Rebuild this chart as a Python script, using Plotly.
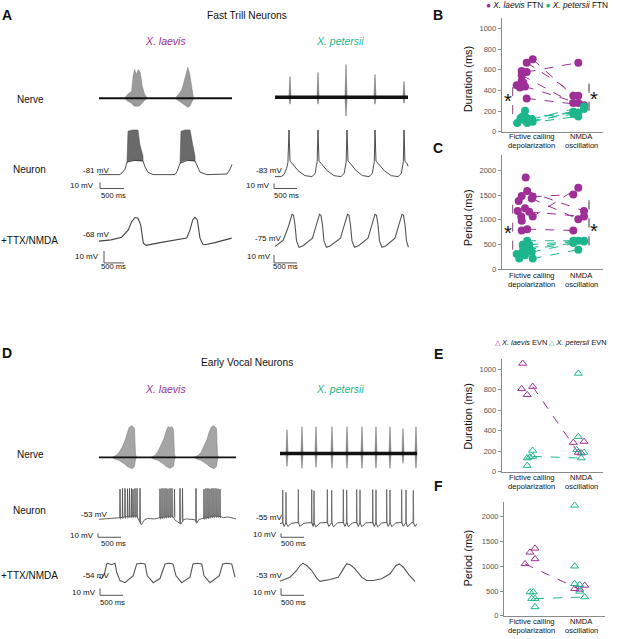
import plotly.graph_objects as go

W, H = 618, 639
PURPLE = "#9d2f96"
GREEN = "#1db68c"
INK = "#3a3a3a"
FONT = "Arial, Liberation Sans, Helvetica, sans-serif"

# ======================= DATA =======================
# ---- (A) Fast trill neurons, X. laevis ----
ftn_lv_nerve_dur = 2770
ftn_lv_nerve_b1_t = [540, 600, 680, 710, 740, 780, 820, 860, 900, 950, 1000]
ftn_lv_nerve_b1_up = [0.5, 4, 7, 22, 29, 24, 29, 26, 12, 4, 0.5]
ftn_lv_nerve_b1_dn = [-0.5, -3, -5, -7, -8, -8, -8, -7, -5, -2, -0.5]
ftn_lv_nerve_b2_t = [1600, 1660, 1720, 1770, 1820, 1850, 1890, 1930, 1970]
ftn_lv_nerve_b2_up = [0.5, 4, 8, 16, 26, 31, 24, 10, 0.5]
ftn_lv_nerve_b2_dn = [-0.5, -3, -5, -7, -8, -9, -8, -4, -0.5]

ftn_lv_neuron_t = [0, 437, 479, 542, 583, 750, 917, 958, 1021, 1125, 1583, 1625, 1687,
                   1850, 2000, 2042, 2104, 2250, 2667, 2729, 2770]
ftn_lv_neuron_v = [-81, -81, -78, -72, -60, -57, -58, -68, -77, -81, -81, -76, -62,
                   -57, -58, -67, -77, -81, -80, -72, -64]
ftn_lv_burst1_t = [583, 604, 700, 812, 850, 917, 917, 812, 700, 604, 583]
ftn_lv_burst1_v = [-60, -8, -6, -6, -30, -50, -58, -57, -57, -59, -60]
ftn_lv_burst2_t = [1687, 1708, 1800, 1896, 1950, 2000, 2000, 1896, 1800, 1708, 1687]
ftn_lv_burst2_v = [-62, -8, -6, -6, -30, -50, -58, -57, -57, -60, -62]

ftn_lv_ttx_t = [0, 300, 567, 733, 817, 900, 975, 1042, 1108, 1175, 1525, 1900, 2192, 2275,
                2342, 2400, 2458, 2525, 2592, 2650, 2900, 3317]
ftn_lv_ttx_v = [-68, -67, -64.7, -58.6, -51.6, -48.2, -48.8, -54.4, -69.7, -71.6, -69.3,
                -67.2, -65.5, -58.6, -50.2, -48, -50.2, -65.5, -70.5, -71.1, -69.3, -65.5]

# ---- (A) Fast trill neurons, X. petersii ----
ftn_pt_nerve_dur = 2770
ftn_pt_nerve_spk_t = [312, 896, 1479, 2083, 2687]
ftn_pt_nerve_spk_up = [21, 25, 33, 23, 16]
ftn_pt_nerve_spk_dn = [-7, -7, -19, -7, -6]

ftn_pt_neuron_t = [0, 130, 195, 250, 280, 304, 325, 370, 500, 650, 800, 870, 900, 915, 933,
                   955, 1000, 1130, 1280, 1430, 1500, 1530, 1545, 1562, 1585, 1630, 1760,
                   1900, 2040, 2110, 2140, 2155, 2170, 2192, 2235, 2370, 2520, 2670, 2740,
                   2770, 2785, 2799, 2820, 2860, 2886]
ftn_pt_neuron_v = [-83, -83, -79, -67, -55, 11, -52, -56, -71, -81, -83, -77, -60, -53, 11,
                   -52, -56, -71, -81, -83, -77, -60, -53, 11, -52, -56, -71, -81, -83, -77,
                   -60, -53, 11, -52, -56, -71, -81, -83, -77, -60, -53, 11, -52, -56, -62]

ftn_pt_ttx_t = [0, 180, 294, 337, 370, 403, 435, 468, 522, 609, 815, 891, 934, 967, 1000,
                1032, 1065, 1119, 1206, 1424, 1500, 1543, 1576, 1609, 1641, 1674, 1728, 1815,
                2022, 2098, 2141, 2174, 2207, 2239, 2272, 2326, 2413, 2609, 2685, 2728, 2761,
                2794, 2826, 2859, 2900]
ftn_pt_ttx_v = [-78, -70, -52.5, -42.5, -37.5, -38.8, -51, -71, -79, -77, -67.5, -52.5, -42.5,
                -37.5, -38.8, -51, -71, -79, -77, -67.5, -52.5, -42.5, -37.5, -38.8, -51, -71,
                -79, -77, -67.5, -52.5, -42.5, -37.5, -38.8, -51, -71, -79, -77, -67.5, -52.5,
                -42.5, -37.5, -38.8, -51, -71, -79]

# ---- (D) Early vocal neurons, X. laevis ----
evn_lv_nerve_dur = 2973
evn_lv_nerve_b1_t = [282, 369, 434, 499, 564, 608, 651, 694, 738, 770, 792, 814]
evn_lv_nerve_b1_up = [0, 2, 5, 10, 17, 24, 30, 32, 31, 29, 3, 0]
evn_lv_nerve_b1_dn = [0, -2, -3, -5, -7, -9, -10, -11, -11, -9, -2, 0]
evn_lv_nerve_b2_t = [1128, 1215, 1280, 1345, 1410, 1454, 1497, 1540, 1584, 1616, 1638, 1660]
evn_lv_nerve_b2_up = [0, 2, 6, 12, 19, 26, 31, 30, 31, 28, 3, 0]
evn_lv_nerve_b2_dn = [0, -2, -3, -5, -7, -9, -10, -11, -10, -9, -2, 0]
evn_lv_nerve_b3_t = [2061, 2148, 2213, 2278, 2343, 2387, 2430, 2473, 2517, 2549, 2571, 2593]
evn_lv_nerve_b3_up = [0, 2, 5, 11, 18, 25, 30, 32, 31, 29, 3, 0]
evn_lv_nerve_b3_dn = [0, -2, -3, -5, -7, -9, -10, -11, -11, -9, -2, 0]

evn_lv_neuron_t = [0, 200, 350, 456, 700, 825, 870, 920, 980, 1050, 1200, 1324, 1600, 1650,
                   1700, 1780, 1830, 1900, 2080, 2120, 2170, 2278, 2500, 2640, 2700, 2800,
                   2900, 2973]
evn_lv_neuron_v = [-54, -53, -52, -50, -46, -46, -58, -68, -56, -52, -53, -50, -46, -56, -60,
                   -66, -55, -53, -55, -64, -54, -51, -46, -47, -50, -48, -52, -53]
evn_lv_spk_t = [456, 510, 564, 619, 662, 705, 738, 781, 825, 890, 1324, 1367, 1411, 1454,
                1497, 1541, 1584, 1638, 1758, 1812, 2105, 2278, 2322, 2365, 2408, 2452, 2495,
                2539, 2582, 2626]
evn_lv_spk_top = [22, 24, 24, 23, 24, 24, 22, 24, 24, 24, 23, 24, 24, 24, 23, 24, 24, 22, 24,
                  24, 24, 22, 24, 24, 23, 24, 24, 24, 23, 22]
evn_lv_spk_base = [-50, -49, -48, -48, -47, -47, -46, -46, -46, -60, -50, -49, -48, -48, -47,
                   -47, -46, -46, -62, -55, -58, -51, -50, -49, -48, -47, -47, -46, -46, -47]

evn_lv_ttx_t = [0, 59, 120, 167, 195, 270, 347, 384, 456, 564, 744, 803, 818, 900, 998, 1048,
                1178, 1324, 1411, 1432, 1520, 1606, 1671, 1795, 1975, 2033, 2040, 2130, 2229,
                2279, 2409, 2611, 2663, 2684, 2780, 2880, 2951]
evn_lv_ttx_v = [-55, -57, -50, -36, -35, -37, -35, -48, -60, -63, -53, -38, -36, -35, -36, -53,
                -63, -57, -38, -36, -35, -36, -53, -63, -55, -38, -36, -35, -36, -53, -63, -53,
                -38, -36, -35, -36, -55]

# ---- (D) Early vocal neurons, X. petersii ----
evn_pt_nerve_dur = 2973
evn_pt_nerve_spk_t = [152, 477, 781, 1128, 1454, 1779, 2083, 2387, 2669, 2951]
evn_pt_nerve_spk_up = [24, 27, 27, 27, 27, 27, 27, 27, 25, 27]
evn_pt_nerve_spk_dn = [-13, -15, -14, -15, -15, -15, -15, -15, -10, -15]

evn_pt_neuron_t = [0, 59, 90, 130, 170, 250, 398, 430, 520, 688, 720, 738, 775, 870, 1027,
                   1060, 1122, 1160, 1250, 1374, 1410, 1447, 1485, 1570, 1664, 1700, 1736,
                   1775, 1860, 2012, 2045, 2083, 2120, 2210, 2315, 2350, 2387, 2425, 2510,
                   2640, 2675, 2734, 2770, 2850, 2893, 2930, 2973]
evn_pt_neuron_v = [-57, -54, -64, -54, -64, -56, -54, -64, -56, -54, -64, -54, -65, -55, -54,
                   -64, -54, -65, -55, -54, -64, -54, -65, -55, -54, -64, -54, -65, -55, -54,
                   -64, -54, -65, -55, -54, -64, -54, -65, -55, -54, -64, -54, -65, -55, -54,
                   -64, -57]
evn_pt_spk_t = [59, 130, 398, 688, 738, 1027, 1122, 1374, 1447, 1664, 1736, 2012, 2083, 2315,
                2387, 2640, 2734, 2893]
evn_pt_spk_top = [28, 22, 29, 29, 26, 29, 27, 29, 28, 29, 28, 29, 28, 29, 28, 29, 28, 27]
evn_pt_spk_base = [-54, -54, -54, -54, -54, -54, -54, -54, -54, -54, -54, -54, -54, -54, -54,
                   -54, -54, -54]

evn_pt_ttx_t = [0, 37, 217, 362, 434, 493, 579, 688, 796, 868, 1085, 1265, 1374, 1447, 1519,
                1628, 1773, 1881, 2025, 2207, 2387, 2517, 2589, 2676, 2806, 2930]
evn_pt_ttx_v = [-58, -57.3, -52.6, -43, -35.8, -32.6, -35.8, -43, -54, -58.7, -55.9, -52.6,
                -40.6, -33.5, -34.4, -40.6, -52.6, -57.3, -57.3, -54.9, -47.7, -35.8, -33.5,
                -38.3, -50.1, -58.7]

# ---- (B) Duration, FTN ----
B_lv_fict_x = [1.02, 0.90, 0.90, 0.80, 0.866, 0.90, 0.70, 0.766, 0.80, 0.80, 0.83]
B_lv_fict_y = [701, 669, 579, 547, 437, 322, 450, 428, 492, 588, 476]
B_lv_nmda_x = [1.832, 1.932, 1.932, 1.832, 1.932, 2.046]
B_lv_nmda_y = [347, 347, 669, 277, 277, 257]
B_pt_fict_x = [1.00, 1.02, 0.91, 0.886, 0.91, 0.97, 0.71, 0.776, 0.816, 0.83, 0.866]
B_pt_fict_y = [122, 96, 122, 138, 84, 106, 84, 129, 148, 116, 203]
B_pt_nmda_x = [2.046, 2.046, 1.832, 1.932, 1.932, 1.832]
B_pt_nmda_y = [244, 219, 193, 186, 148, 170]

# ---- (C) Period, FTN ----
C_lv_fict_x = [1.02, 0.91, 1.02, 1.00, 0.95, 0.91, 0.88, 0.80, 0.74, 0.866, 0.72, 0.79, 0.80, 0.80]
C_lv_fict_y = [1465, 1579, 1064, 1430, 1160, 809, 1853, 1478, 1378, 1231, 1177, 1064, 977, 783]
C_lv_nmda_x = [1.832, 2.046, 1.932, 1.932, 2.046, 1.832]
C_lv_nmda_y = [1512, 1177, 1645, 1010, 1064, 783]
C_pt_fict_x = [0.91, 0.95, 0.95, 0.91, 1.00, 1.02, 0.70, 0.75, 0.82, 0.83, 0.82, 0.866]
C_pt_fict_y = [575, 495, 428, 395, 348, 214, 308, 214, 495, 428, 348, 281]
C_pt_nmda_x = [1.832, 2.046, 1.932, 1.832, 2.046, 1.932]
C_pt_nmda_y = [575, 575, 575, 528, 560, 395]

# ---- (E) Duration, EVN ----
E_lv_fict_x = [1.02, 0.82, 0.80, 0.91]
E_lv_fict_y = [830, 1055, 807, 749]
E_lv_nmda_x = [1.932, 1.832, 2.046, 1.99]
E_lv_nmda_y = [186, 283, 293, 180]
E_pt_fict_x = [1.02, 0.91, 0.91, 0.96, 1.02]
E_pt_fict_y = [148, 58, 132, 141, 206]
E_pt_nmda_x = [1.99, 1.932, 1.932, 1.90, 2.046]
E_pt_nmda_y = [132, 958, 341, 212, 186]

# ---- (F) Period, EVN ----
F_lv_fict_x = [0.866, 0.966, 1.066, 1.066]
F_lv_fict_y = [1047, 1280, 1360, 1147]
F_lv_nmda_x = [1.96, 1.859, 2.06]
F_lv_nmda_y = [533, 547, 613]
F_pt_fict_x = [1.066, 0.966, 1.03, 1.00, 1.066]
F_pt_fict_y = [347, 480, 480, 347, 180]
F_pt_nmda_x = [2.06, 1.859, 1.859, 1.859, 1.96, 1.96]
F_pt_nmda_y = [380, 2227, 1000, 647, 627, 493]

category_lines = [["Fictive calling", "depolarization"], ["NMDA", "oscillation"]]

# ======================= FIGURE =======================
fig = go.Figure()
layout = dict(width=W, height=H, margin=dict(l=0, r=0, t=0, b=0),
              paper_bgcolor="white", plot_bgcolor="rgba(0,0,0,0)",
              showlegend=False, font=dict(family=FONT))
annotations = []
n_axes = [0]


def X(px):
    return px / W


def Y(py):
    return 1 - py / H


def add_axes(l_px, r_px, t_px, b_px, xr, yr, visible=False):
    n_axes[0] += 1
    n = n_axes[0]
    sfx = "" if n == 1 else str(n)
    layout["xaxis" + sfx] = dict(domain=[X(l_px), X(r_px)], range=xr, anchor="y" + sfx,
                                 visible=visible, showgrid=False, zeroline=False, fixedrange=True)
    layout["yaxis" + sfx] = dict(domain=[Y(b_px), Y(t_px)], range=yr, anchor="x" + sfx,
                                 visible=visible, showgrid=False, zeroline=False, fixedrange=True)
    return "x" + sfx, "y" + sfx


def trace_panel(g):
    l_px, r_px = g["x0"] - 8, g["x0"] + 150
    xr = [(l_px - g["x0"]) * g["mspp"], (r_px - g["x0"]) * g["mspp"]]
    yr = [g["vref"] - (g["bot"] - g["yref"]) * g["mvpp"], g["vref"] + (g["yref"] - g["top"]) * g["mvpp"]]
    return add_axes(l_px, r_px, g["top"], g["bot"], xr, yr)


def scale_bar(ax, g, cx, cy):
    tc = (cx - g["x0"]) * g["mspp"]
    vc = g["vref"] - (cy - g["yref"]) * g["mvpp"]
    fig.add_trace(go.Scatter(x=[tc, tc, tc + 500], y=[vc + 10, vc, vc], mode="lines",
                             line=dict(color="#555", width=1), xaxis=ax[0], yaxis=ax[1], hoverinfo="skip"))


def line(ax, t, v, width=0.9, color=INK):
    fig.add_trace(go.Scatter(x=t, y=v, mode="lines", line=dict(color=color, width=width),
                             xaxis=ax[0], yaxis=ax[1], hoverinfo="skip"))


def envelope(ax, t, up, dn, color="#8f8f8f", edge="#777"):
    fig.add_trace(go.Scatter(x=list(t) + list(t)[::-1], y=list(up) + list(dn)[::-1], mode="lines",
                             fill="toself", fillcolor=color, line=dict(color=edge, width=0.5),
                             xaxis=ax[0], yaxis=ax[1], hoverinfo="skip"))


def nerve_spikes(ax, t, up, dn, half=22, color="#7a7a7a"):
    xs, ys = [], []
    for ti, u, d in zip(t, up, dn):
        xs += [ti - half, ti, ti + half, ti, ti - half, None]
        ys += [0, u, 0, d, 0, None]
    fig.add_trace(go.Scatter(x=xs, y=ys, mode="lines", fill="toself", fillcolor=color,
                             line=dict(color=color, width=0.6), xaxis=ax[0], yaxis=ax[1],
                             hoverinfo="skip"))


def spikes(ax, t, base, top, width=0.9, color=INK):
    xs, ys = [], []
    for ti, b, tp in zip(t, base, top):
        xs += [ti - 6, ti, ti + 8, None]
        ys += [b, tp, b - 4, None]
    fig.add_trace(go.Scatter(x=xs, y=ys, mode="lines", line=dict(color=color, width=width),
                             xaxis=ax[0], yaxis=ax[1], hoverinfo="skip"))


geo = {
    "A_lv_nerve": dict(x0=99, mspp=20.83, yref=99, vref=0, mvpp=1, top=58, bot=122),
    "A_pt_nerve": dict(x0=275, mspp=20.83, yref=98, vref=0, mvpp=1, top=58, bot=122),
    "A_lv_neuron": dict(x0=99, mspp=20.83, yref=176, vref=-81, mvpp=1.667, top=124, bot=194),
    "A_pt_neuron": dict(x0=275, mspp=21.7, yref=178, vref=-83, mvpp=2.0, top=124, bot=194),
    "A_lv_ttx": dict(x0=99, mspp=25, yref=243, vref=-68, mvpp=0.833, top=205, bot=270),
    "A_pt_ttx": dict(x0=275, mspp=21.74, yref=246, vref=-75, mvpp=1.25, top=205, bot=270),
    "D_lv_nerve": dict(x0=99, mspp=21.7, yref=461, vref=0, mvpp=1, top=418, bot=482),
    "D_pt_nerve": dict(x0=280, mspp=21.7, yref=457, vref=0, mvpp=1, top=418, bot=482),
    "D_lv_neuron": dict(x0=99, mspp=21.7, yref=523, vref=-53, mvpp=2.5, top=486, bot=546),
    "D_pt_neuron": dict(x0=280, mspp=21.7, yref=527, vref=-55, mvpp=2.5, top=486, bot=546),
    "D_lv_ttx": dict(x0=99, mspp=21.7, yref=581, vref=-54, mvpp=1.43, top=558, bot=606),
    "D_pt_ttx": dict(x0=280, mspp=21.7, yref=582, vref=-53, mvpp=1.43, top=558, bot=606),
}
ax = {k: trace_panel(g) for k, g in geo.items()}

# --- A nerve ---
envelope(ax["A_lv_nerve"], ftn_lv_nerve_b1_t, ftn_lv_nerve_b1_up, ftn_lv_nerve_b1_dn, color="#9a9a9a")
envelope(ax["A_lv_nerve"], ftn_lv_nerve_b2_t, ftn_lv_nerve_b2_up, ftn_lv_nerve_b2_dn, color="#9a9a9a")
line(ax["A_lv_nerve"], [0, ftn_lv_nerve_dur], [0, 0], width=2.0, color="#111")
nerve_spikes(ax["A_pt_nerve"], ftn_pt_nerve_spk_t, ftn_pt_nerve_spk_up, ftn_pt_nerve_spk_dn)
line(ax["A_pt_nerve"], [0, ftn_pt_nerve_dur], [0, 0], width=3.5, color="#111")
# --- A neuron ---
envelope(ax["A_lv_neuron"], ftn_lv_burst1_t, ftn_lv_burst1_v, [], color="#6a6a6a", edge="#444")
envelope(ax["A_lv_neuron"], ftn_lv_burst2_t, ftn_lv_burst2_v, [], color="#6a6a6a", edge="#444")
line(ax["A_lv_neuron"], ftn_lv_neuron_t, ftn_lv_neuron_v)
line(ax["A_pt_neuron"], ftn_pt_neuron_t, ftn_pt_neuron_v)
# --- A TTX ---
line(ax["A_lv_ttx"], ftn_lv_ttx_t, ftn_lv_ttx_v, width=1.1, color="#444")
line(ax["A_pt_ttx"], ftn_pt_ttx_t, ftn_pt_ttx_v, width=1.1, color="#555")
# --- D nerve ---
envelope(ax["D_lv_nerve"], evn_lv_nerve_b1_t, evn_lv_nerve_b1_up, evn_lv_nerve_b1_dn, color="#a5a5a5")
envelope(ax["D_lv_nerve"], evn_lv_nerve_b2_t, evn_lv_nerve_b2_up, evn_lv_nerve_b2_dn, color="#a5a5a5")
envelope(ax["D_lv_nerve"], evn_lv_nerve_b3_t, evn_lv_nerve_b3_up, evn_lv_nerve_b3_dn, color="#a5a5a5")
line(ax["D_lv_nerve"], [0, evn_lv_nerve_dur], [0, 0], width=1.6, color="#111")
nerve_spikes(ax["D_pt_nerve"], evn_pt_nerve_spk_t, evn_pt_nerve_spk_up, evn_pt_nerve_spk_dn)
line(ax["D_pt_nerve"], [0, evn_pt_nerve_dur], [0, 0], width=3.5, color="#111")
# --- D neuron ---
line(ax["D_lv_neuron"], evn_lv_neuron_t, evn_lv_neuron_v, width=0.9, color="#555")
spikes(ax["D_lv_neuron"], evn_lv_spk_t, evn_lv_spk_base, evn_lv_spk_top, color="#555")
line(ax["D_pt_neuron"], evn_pt_neuron_t, evn_pt_neuron_v, width=0.9, color="#444")
spikes(ax["D_pt_neuron"], evn_pt_spk_t, evn_pt_spk_base, evn_pt_spk_top, color="#666")
# --- D TTX ---
line(ax["D_lv_ttx"], evn_lv_ttx_t, evn_lv_ttx_v, width=1.1, color="#555")
line(ax["D_pt_ttx"], evn_pt_ttx_t, evn_pt_ttx_v, width=1.1, color="#555")

# scale bars (bottom-left corner in pixel positions)
bars = {"A_lv_neuron": (100, 190), "A_pt_neuron": (274, 190), "A_lv_ttx": (104, 265),
        "A_pt_ttx": (274, 265), "D_lv_neuron": (98, 541.5), "D_pt_neuron": (281, 541.5),
        "D_lv_ttx": (100, 600), "D_pt_ttx": (281, 600)}
for k, (cx, cy) in bars.items():
    scale_bar(ax[k], geo[k], cx, cy)


def label(text, xpx, ypx, size, color="#111", xanchor="center", yanchor="middle", angle=0):
    annotations.append(dict(text=text, x=X(xpx), y=Y(ypx), xref="paper", yref="paper",
                            showarrow=False, textangle=angle, borderpad=0,
                            font=dict(size=size, color=color, family=FONT),
                            xanchor=xanchor, yanchor=yanchor))


# text labels on trace panels
for txt, xr_, yp in [("-81 mV", 110, 172), ("-68 mV", 110, 236), ("-83 mV", 283, 172),
                     ("-75 mV", 282, 240), ("-53 mV", 108, 519), ("-54 mV", 110, 580),
                     ("-55 mV", 283, 522), ("-53 mV", 283, 580)]:
    label(txt, xr_, yp, 8, xanchor="right")
for xr_, yp in [(95, 187), (100, 259), (271, 187), (272, 259), (95, 540), (97, 597),
                (278, 539), (278, 597)]:
    label("10 mV", xr_, yp, 8, xanchor="right")
for xc, yp in [(113, 197), (113, 269), (286, 197), (285, 269), (113, 548), (112, 607),
               (293, 548), (293, 607)]:
    label("500 ms", xc, yp, 7.6)

label("<b>A</b>", 7, 15, 14)
label("<b>D</b>", 7, 356, 14)
label("<b>B</b>", 438, 15, 14)
label("<b>C</b>", 438, 149, 14)
label("<b>E</b>", 438, 357, 14)
label("<b>F</b>", 438, 490, 14)
label("Fast Trill Neurons", 247, 16, 10.2)
label("Early Vocal Neurons", 247, 365, 10.2)
for yp in (41, 392):
    label("<i>X. laevis</i>", 165, yp, 10.5, color=PURPLE)
    label("<i>X. petersii</i>", 340, yp, 10.5, color=GREEN)
for yn, yne, yt in [(100, 171, 242), (458, 515, 580)]:
    label("Nerve", 30, yn, 10)
    label("Neuron", 29, yne, 10)
    label("+TTX/NMDA", 0, yt, 10, xanchor="left")


# ---------------- scatter panels ----------------
def scatter_panel(l_px, r_px, t_px, b_px, xr, yr, tickvals, lab_y):
    xa, ya = add_axes(l_px, r_px, t_px, b_px, xr, yr, visible=True)
    sx = "" if xa == "x" else xa[1:]
    layout["xaxis" + sx].update(showline=True, linecolor="#8a8a8a", linewidth=1, ticks="",
                                showticklabels=False)
    layout["yaxis" + sx].update(showline=True, linecolor="#8a8a8a", linewidth=1, ticks="outside",
                                ticklen=3, tickcolor="#8a8a8a", tickvals=tickvals,
                                tickfont=dict(size=7.5, color="#555", family=FONT))
    # category labels (two lines each) placed at x = 1 and x = 2
    for cx, lines_ in zip([1, 2], category_lines):
        px = l_px + (cx - xr[0]) / (xr[1] - xr[0]) * (r_px - l_px)
        for k, txt in enumerate(lines_):
            label(txt, px, lab_y + 8.8 * k, 7.6)
    return xa, ya


def pairs_and_points(axp, fx, fy, nx, ny, color, symbol, size, paired):
    lx, ly = [], []
    for i in range(paired):
        lx += [fx[i], nx[i], None]
        ly += [fy[i], ny[i], None]
    fig.add_trace(go.Scatter(x=lx, y=ly, mode="lines", line=dict(color=color, width=1, dash="dash"),
                             xaxis=axp[0], yaxis=axp[1], hoverinfo="skip"))
    mk = dict(color=color, size=size, symbol=symbol)
    if "open" in symbol:
        mk["line"] = dict(color=color, width=1)
    else:
        mk["line"] = dict(width=0)
    fig.add_trace(go.Scatter(x=list(fx) + list(nx), y=list(fy) + list(ny), mode="markers",
                             marker=mk, xaxis=axp[0], yaxis=axp[1], hoverinfo="skip"))


def bracket(axp, x, y0, y1, color):
    fig.add_trace(go.Scatter(x=[x, x], y=[y0, y1], mode="lines",
                             line=dict(color=color, width=1, dash="dash"),
                             xaxis=axp[0], yaxis=axp[1], hoverinfo="skip"))


axB = scatter_panel(501.7, 603, 18.3, 132.7, [0.4, 2.426], [0, 1100], [0, 200, 400, 600, 800, 1000], 137.8)
axC = scatter_panel(501.7, 603, 156.7, 271.3, [0.4, 2.426], [0, 2300], [0, 500, 1000, 1500, 2000], 277.6)
axE = scatter_panel(501.7, 603, 361.7, 475.3, [0.4, 2.426], [0, 1100], [0, 200, 400, 600, 800, 1000], 481.3)
axF = scatter_panel(504, 605, 505.7, 620.7, [0.446, 2.466], [0, 2300], [0, 500, 1000, 1500, 2000], 626.2)

bracket(axB, 0.62, 170, 492, "#7a4a72")
bracket(axB, 2.146, 203, 508, "#333")
bracket(axC, 0.62, 395, 1365, "#7a4a72")
bracket(axC, 2.146, 482, 1431, "#333")

pairs_and_points(axB, B_lv_fict_x, B_lv_fict_y, B_lv_nmda_x, B_lv_nmda_y, PURPLE, "circle", 8, 6)
pairs_and_points(axB, B_pt_fict_x, B_pt_fict_y, B_pt_nmda_x, B_pt_nmda_y, GREEN, "circle", 8, 6)
pairs_and_points(axC, C_lv_fict_x, C_lv_fict_y, C_lv_nmda_x, C_lv_nmda_y, PURPLE, "circle", 8, 6)
pairs_and_points(axC, C_pt_fict_x, C_pt_fict_y, C_pt_nmda_x, C_pt_nmda_y, GREEN, "circle", 8, 6)
pairs_and_points(axE, E_lv_fict_x, E_lv_fict_y, E_lv_nmda_x, E_lv_nmda_y, PURPLE, "triangle-up-open", 7, 1)
pairs_and_points(axE, E_pt_fict_x, E_pt_fict_y, E_pt_nmda_x, E_pt_nmda_y, GREEN, "triangle-up-open", 7, 1)
pairs_and_points(axF, F_lv_fict_x, F_lv_fict_y, F_lv_nmda_x, F_lv_nmda_y, PURPLE, "triangle-up-open", 7, 1)
pairs_and_points(axF, F_pt_fict_x, F_pt_fict_y, F_pt_nmda_x, F_pt_nmda_y, GREEN, "triangle-up-open", 7, 1)

label("Duration (ms)", 468, 80, 11, angle=-90)
label("Period (ms)", 468, 220, 11, angle=-90)
label("Duration (ms)", 468, 420, 11, angle=-90)
label("Period (ms)", 468, 563, 11, angle=-90)
for xp, yp in [(508, 102), (594, 100), (508, 235), (594, 233)]:
    label("*", xp, yp, 20)

label('<span style="color:%s">●</span> <i>X. laevis</i> FTN <span style="color:%s">●</span> '
      '<i>X. petersii</i> FTN' % (PURPLE, GREEN), 485, 5, 8.3, xanchor="left")
label('<span style="color:%s">△</span> <i>X. laevis</i> EVN <span style="color:%s">△</span> '
      '<i>X. petersii</i> EVN' % (PURPLE, GREEN), 494, 345, 7.4, xanchor="left")

layout["annotations"] = annotations
fig.update_layout(**layout)
fig.write_html("out.html", config={"displayModeBar": False},
               post_script="document.body.style.margin='0';document.body.style.overflow='hidden';")
